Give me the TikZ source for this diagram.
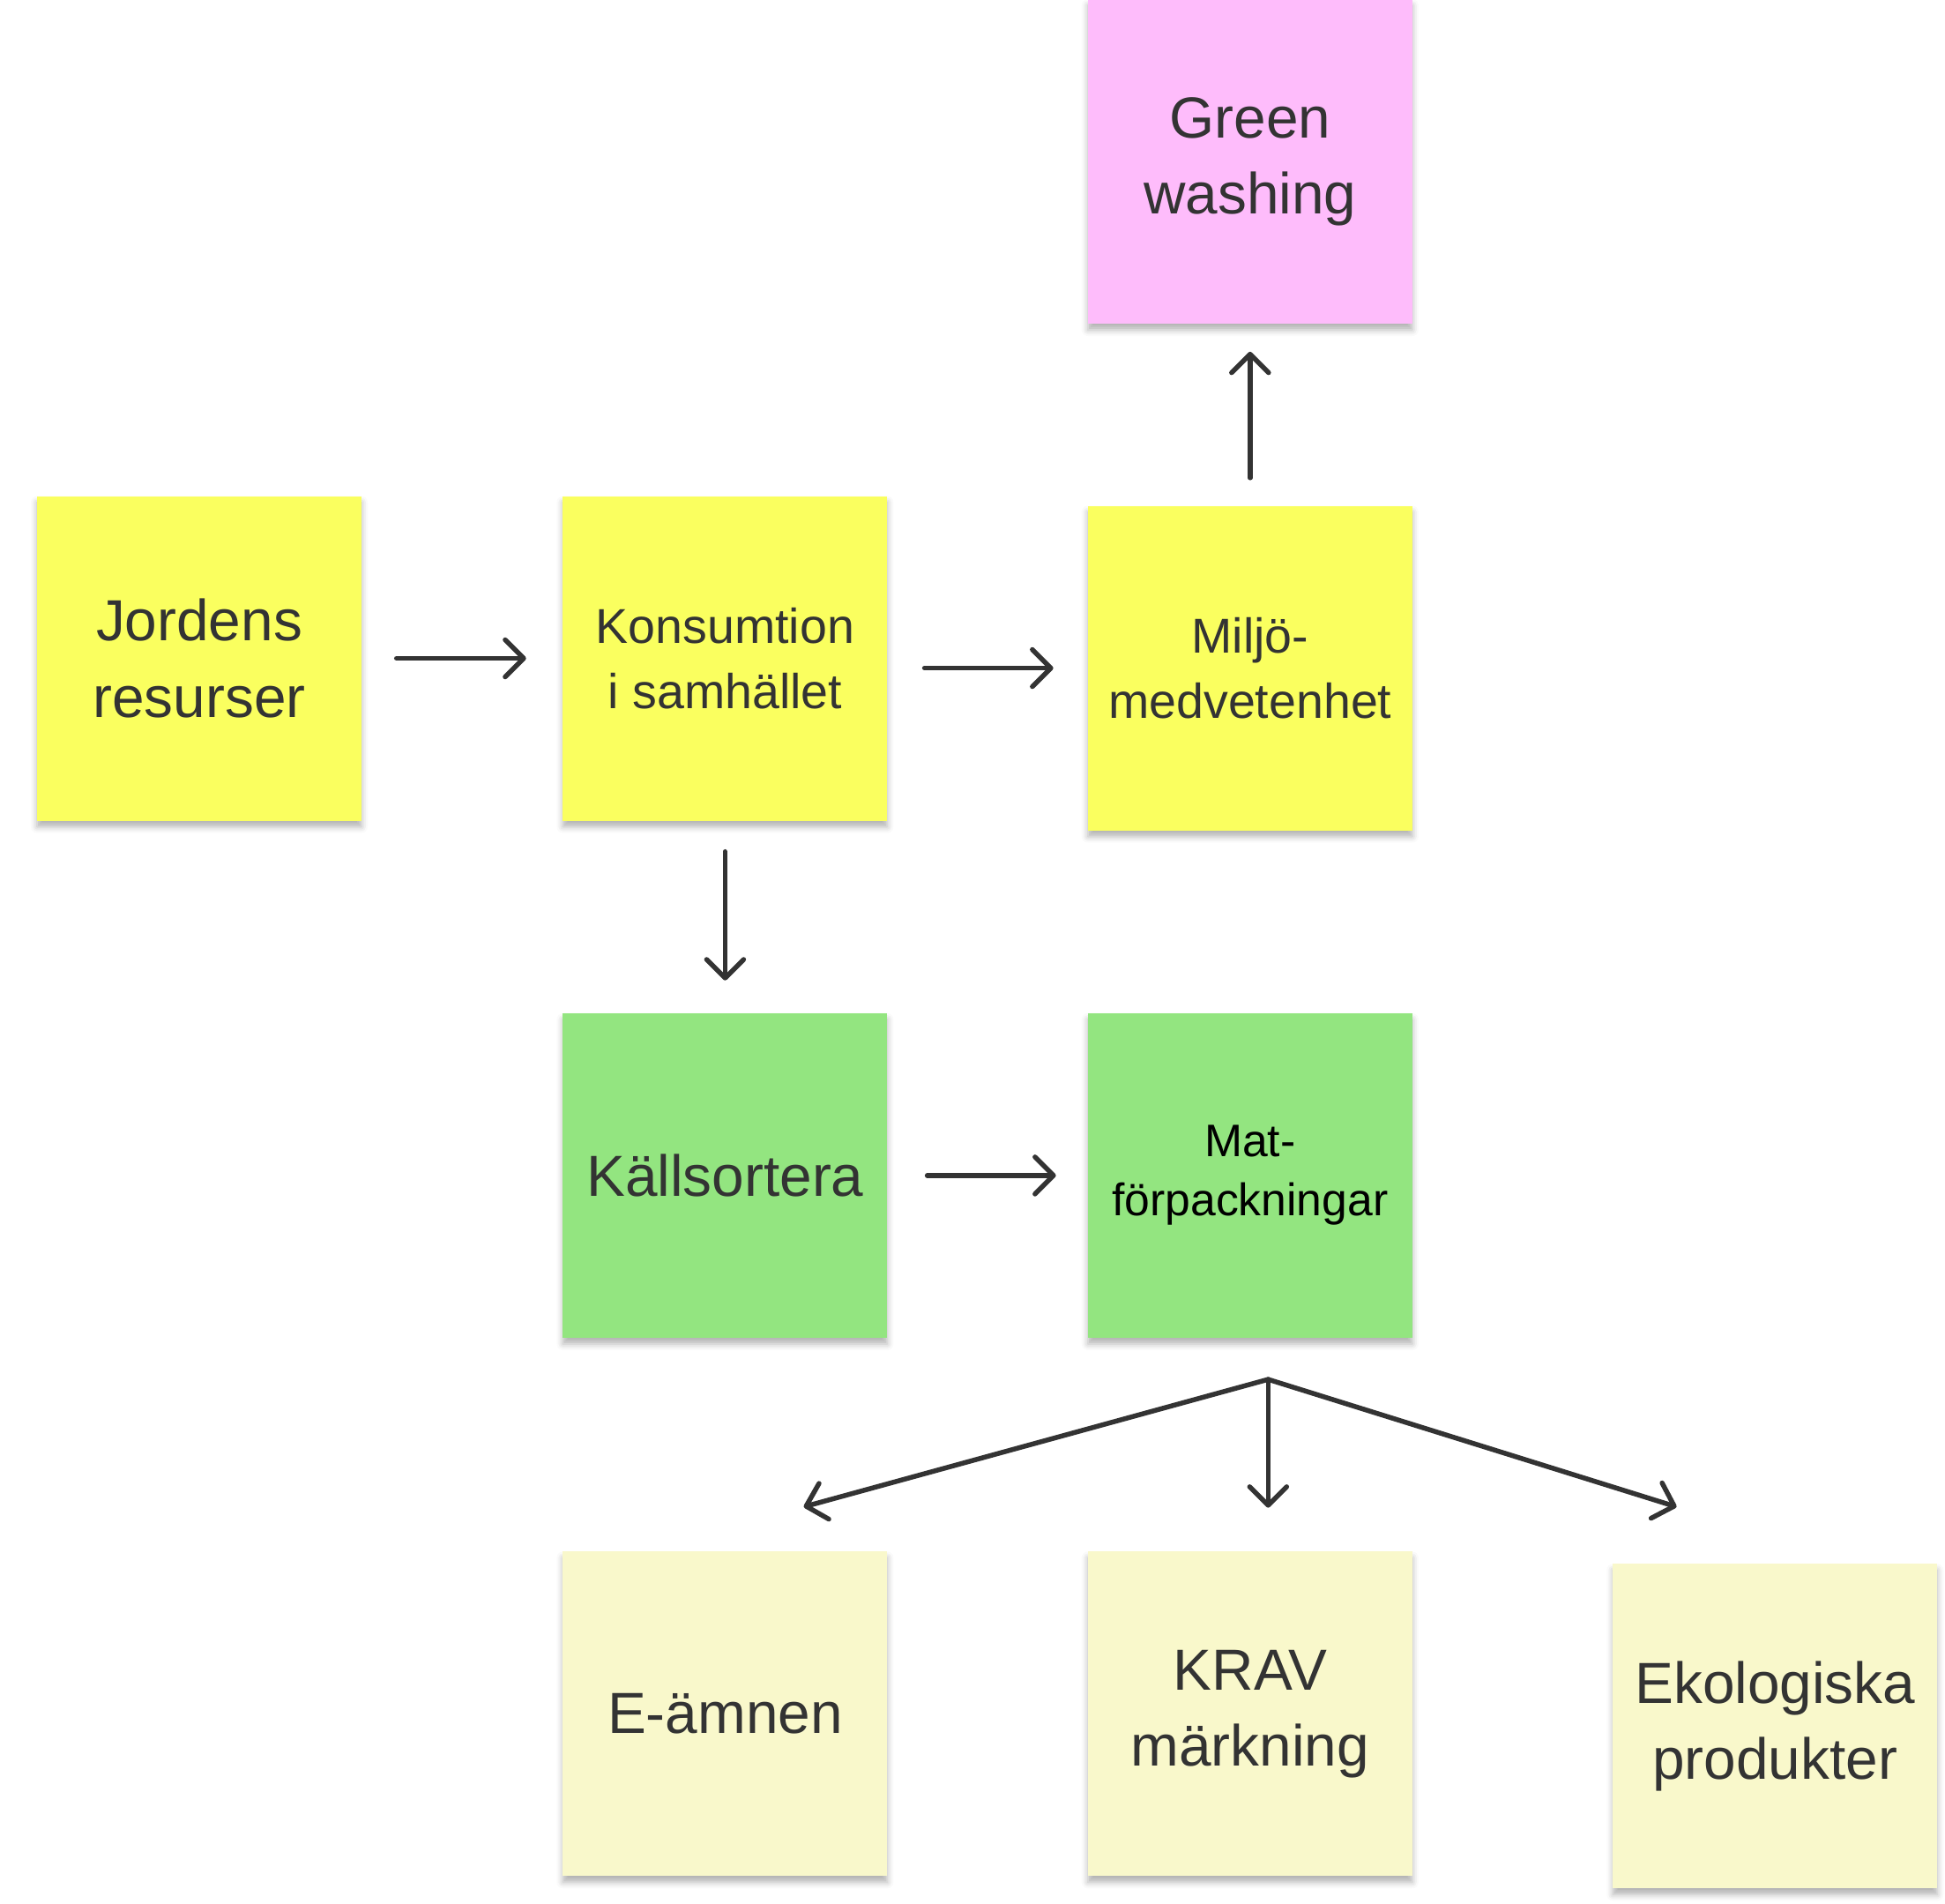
\documentclass[tikz,border=0pt]{standalone}
\usepackage{fontspec}
\setmainfont{Liberation Sans}
\usepackage{xcolor}
\usetikzlibrary{positioning, calc, arrows.meta, shadows.blur}

\definecolor{noteyellow}{HTML}{FAFF5F}
\definecolor{notepink}{HTML}{FEBCFB}
\definecolor{notegreen}{HTML}{93E580}
\definecolor{notepale}{HTML}{F9F8CB}
\definecolor{inkgray}{HTML}{333333}

\begin{document}
\begin{tikzpicture}[
    node distance=2.26cm,
    every node/.style={align=center},
    note/.style={rectangle, minimum width=3.68cm, minimum height=3.68cm, inner sep=0pt, text centered, text=inkgray,
        blur shadow={shadow xshift=0pt, shadow yshift=-0.07cm, shadow blur radius=0.07cm, shadow opacity=30}},
    big/.style={font=\fontsize{18.7}{24.5}\selectfont},
    medium/.style={font=\fontsize{15.8}{21}\selectfont},
    small/.style={font=\fontsize{14.7}{19}\selectfont, text=black},
    arrow/.style={line width=0.055cm, draw=inkgray, line cap=round, line join=round, -{Straight Barb[length=0.21cm, width=0.42cm, round]}}
]
\useasboundingbox (0,0) rectangle (22.06,-21.58);

% Top row
\node (jordens) [note, big, fill=noteyellow] at (2.26,-7.465) {Jordens\\resurser};
\node (kons) [note, medium, fill=noteyellow, right=2.27cm of jordens] {Konsumtion\\i samhället};
\node (miljo) [note, medium, fill=noteyellow, right=of kons, yshift=-0.11cm] {Miljö-\\medvetenhet};
\node (green) [note, big, fill=notepink, above=2.05cm of miljo] {Green\\washing};

% Middle row
\node (kall) [note, big, fill=notegreen, below=2.17cm of kons] {Källsortera};
\node (mat) [note, small, fill=notegreen, right=of kall] {Mat-\\förpackningar};

% Bottom row
\node (eamnen) [note, big, fill=notepale, below=2.41cm of kall] {E-ämnen};
\node (krav) [note, big, fill=notepale, below=2.41cm of mat] {KRAV\\märkning};
\node (eko) [note, big, fill=notepale, right=of krav, yshift=-0.14cm] {Ekologiska\\produkter};

% Fan points
\coordinate (fan) at ($(mat.south)+(0.205,-0.465)$);
\coordinate (tipe) at ($(eamnen.north east)+(-0.955,0.50)$);
\coordinate (tipk) at ($(krav.north)+(0.205,0.49)$);
\coordinate (tipo) at ($(eko.north west)+(0.73,0.64)$);

% Arrows
\draw [arrow, shorten <=0.39cm, shorten >=0.41cm] (jordens) -- (kons);
\draw [arrow, shorten <=0.415cm, shorten >=0.385cm] (kons.east |- miljo.west) -- (miljo.west);
\draw [arrow, shorten <=0.31cm, shorten >=0.31cm] (miljo) -- (green);
\draw [arrow, shorten <=0.345cm, shorten >=0.365cm] (kons) -- (kall);
\draw [arrow, shorten <=0.445cm, shorten >=0.355cm] (kall) -- (mat);
\draw [arrow] (fan) -- (tipe);
\draw [arrow] (fan) -- (tipk);
\draw [arrow] (fan) -- (tipo);

\end{tikzpicture}
\end{document}
